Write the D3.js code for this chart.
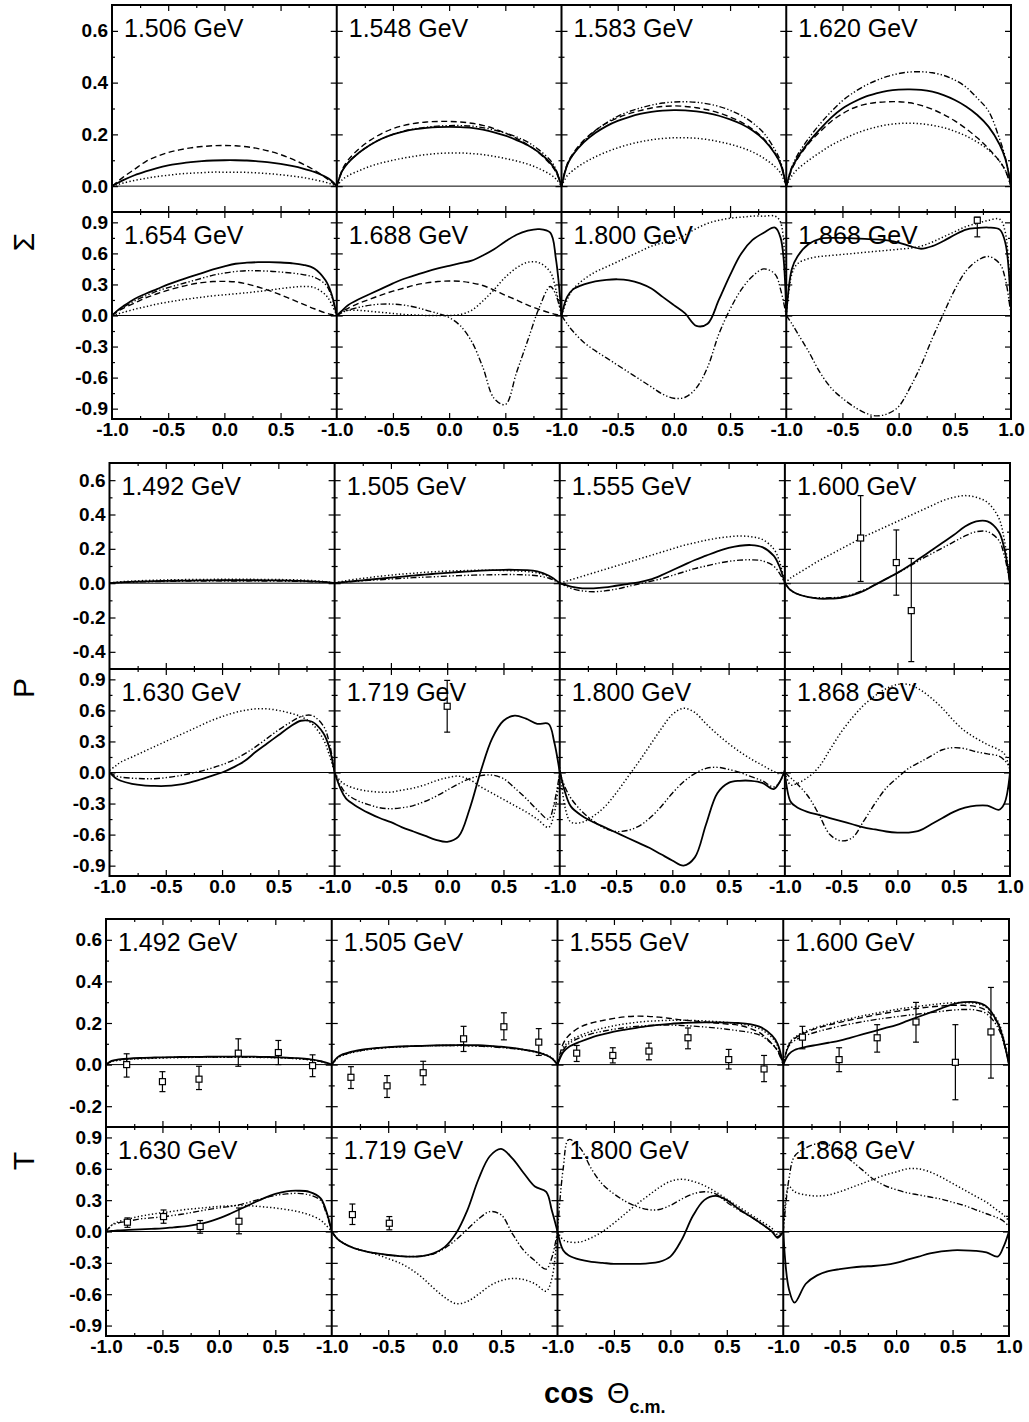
<!DOCTYPE html>
<html>
<head>
<meta charset="utf-8">
<script src="https://cdn.jsdelivr.net/npm/d3@7"></script>
<style>
  body { margin: 0; background: #fff; }
  svg text { font-family: "Liberation Sans", Arial, Helvetica, sans-serif; fill: #000; }
</style>
</head>
<body>
<svg id="chart" width="1029" height="1422"></svg>
<script>
// cos(theta_cm) sampling used for every model curve
const cosGrid = [-1, -0.95, -0.9, -0.8, -0.7, -0.6, -0.5, -0.4, -0.3, -0.2, -0.1, 0,
                 0.1, 0.2, 0.3, 0.4, 0.5, 0.6, 0.7, 0.8, 0.9, 0.95, 1];

// panel energies
const sigmaLabels  = ["1.506 GeV", "1.548 GeV", "1.583 GeV", "1.620 GeV", "1.654 GeV", "1.688 GeV", "1.800 GeV", "1.868 GeV"];
const polLabels    = ["1.492 GeV", "1.505 GeV", "1.555 GeV", "1.600 GeV", "1.630 GeV", "1.719 GeV", "1.800 GeV", "1.868 GeV"];
const targetLabels = ["1.492 GeV", "1.505 GeV", "1.555 GeV", "1.600 GeV", "1.630 GeV", "1.719 GeV", "1.800 GeV", "1.868 GeV"];

// tick values
const sigmaTopTicks = [0, 0.2, 0.4, 0.6],  sigmaTopMinor = [0.1, 0.3, 0.5];
const polTopTicks = [-0.4, -0.2, 0, 0.2, 0.4, 0.6], polTopMinor = [-0.3, -0.1, 0.1, 0.3, 0.5];
const targetTopTicks = [-0.2, 0, 0.2, 0.4, 0.6], targetTopMinor = [-0.1, 0.1, 0.3, 0.5];
const wideTicks = [-0.9, -0.6, -0.3, 0, 0.3, 0.6, 0.9], wideMinor = [-0.75, -0.45, -0.15, 0.15, 0.45, 0.75];
const cosMajor = [-0.5, 0, 0.5], cosMinor = [-0.75, -0.25, 0.25, 0.75];
const cosLabels = [-1, -0.5, 0, 0.5], cosLabelsLast = [-1, -0.5, 0, 0.5, 1];

// ---- Sigma (photon asymmetry) ----
const sigmaSolid = [
  [0, .012, .023, .042, .057, .07, .08, .087, .093, .097, .099, .1, .1, .099, .096, .092, .086, .078, .068, .055, .036, .022, 0],
  [0, .06, .09, .13, .16, .183, .2, .212, .22, .225, .228, .229, .228, .225, .218, .208, .195, .178, .158, .13, .09, .06, 0],
  [0, .08, .12, .17, .205, .232, .252, .267, .279, .287, .292, .294, .293, .289, .282, .272, .258, .24, .215, .18, .125, .085, 0],
  [0, .07, .11, .17, .22, .265, .3, .325, .345, .358, .368, .373, .374, .372, .365, .352, .333, .308, .275, .23, .16, .105, 0],
  [0, .05, .09, .16, .21, .255, .3, .34, .375, .41, .445, .475, .5, .51, .515, .515, .512, .505, .49, .455, .34, .22, 0],
  [0, .05, .1, .16, .21, .26, .31, .355, .39, .425, .455, .48, .505, .53, .58, .64, .715, .78, .82, .835, .8, .55, 0],
  [0, .18, .25, .3, .33, .345, .35, .34, .31, .26, .18, .1, .02, -.1, -.08, .15, .39, .6, .73, .8, .85, .75, 0],
  [0, .45, .57, .69, .74, .75, .75, .745, .74, .735, .725, .705, .67, .645, .67, .72, .78, .83, .845, .85, .83, .7, .05]
];
const sigmaDashed = [
  [0, .018, .035, .065, .095, .115, .13, .14, .148, .153, .156, .157, .156, .152, .145, .135, .122, .105, .085, .062, .033, .017, 0],
  [0, .065, .1, .145, .178, .203, .222, .235, .243, .248, .25, .25, .248, .243, .235, .222, .205, .185, .16, .128, .085, .055, 0],
  [0, .085, .125, .178, .215, .243, .264, .28, .292, .302, .308, .31, .308, .303, .295, .283, .267, .247, .22, .183, .127, .085, 0],
  [0, .065, .105, .165, .21, .25, .28, .302, .316, .323, .326, .326, .322, .312, .297, .277, .252, .222, .187, .145, .095, .06, 0],
  [0, .04, .07, .12, .17, .21, .245, .275, .3, .318, .328, .33, .325, .305, .275, .24, .2, .155, .11, .065, .025, .01, 0],
  [0, .04, .07, .12, .16, .2, .235, .265, .295, .315, .328, .333, .33, .315, .29, .245, .195, .15, .1, .06, .025, .01, 0],
  null,
  null
];
const sigmaDotted = [
  [0, .006, .012, .022, .03, .037, .042, .047, .05, .052, .054, .054, .054, .053, .051, .048, .044, .039, .033, .025, .015, .008, 0],
  [0, .025, .04, .06, .077, .09, .1, .109, .116, .122, .126, .128, .128, .126, .122, .115, .107, .097, .085, .068, .045, .028, 0],
  [0, .04, .06, .09, .113, .132, .148, .161, .171, .179, .184, .187, .187, .185, .18, .172, .162, .149, .132, .108, .075, .05, 0],
  [0, .04, .065, .1, .13, .158, .18, .2, .216, .228, .237, .242, .243, .241, .235, .226, .212, .194, .17, .14, .095, .06, 0],
  [0, .015, .03, .06, .085, .11, .13, .148, .163, .177, .19, .2, .21, .22, .232, .245, .26, .272, .28, .27, .2, .12, 0],
  [0, .04, .05, .05, .04, .03, .02, .01, .005, 0, 0, 0, .01, .05, .14, .25, .37, .46, .515, .51, .42, .25, 0],
  [0, .15, .25, .35, .42, .47, .52, .57, .62, .67, .7, .72, .78, .84, .89, .92, .94, .95, .96, .96, .96, .9, 0],
  [0, .4, .5, .55, .57, .58, .59, .6, .61, .62, .63, .64, .65, .67, .71, .76, .81, .86, .89, .92, .93, .8, 0]
];
const sigmaDashDot = [
  null,
  [0, .06, .09, .13, .16, .183, .2, .213, .222, .228, .232, .234, .234, .232, .226, .217, .205, .19, .17, .14, .1, .065, 0],
  [0, .08, .12, .175, .214, .245, .27, .288, .302, .313, .321, .325, .326, .324, .318, .308, .293, .273, .245, .205, .14, .095, 0],
  [0, .075, .12, .185, .24, .288, .33, .362, .388, .408, .424, .435, .441, .442, .438, .428, .41, .383, .34, .29, .18, .11, 0],
  [0, .045, .08, .14, .19, .235, .27, .3, .33, .36, .39, .41, .425, .433, .432, .428, .42, .41, .395, .37, .3, .2, 0],
  [0, .03, .05, .08, .1, .11, .11, .1, .08, .05, .02, -.02, -.1, -.25, -.5, -.8, -.86, -.55, -.24, .07, .28, .2, 0],
  [0, -.08, -.15, -.26, -.34, -.41, -.48, -.55, -.62, -.69, -.76, -.8, -.79, -.7, -.5, -.18, .06, .25, .38, .45, .4, .25, 0],
  [0, -.08, -.17, -.35, -.55, -.7, -.8, -.88, -.94, -.97, -.95, -.88, -.7, -.48, -.22, .02, .25, .43, .53, .57, .5, .35, 0]
];
// measured points: [cos, value, lower, upper]
const sigmaPoints = [[], [], [], [], [], [], [], [[0.7, 0.92, 0.76, 0.95]]];

// ---- P (recoil polarization) ----
const polSolid = [
  [0, .003, .005, .008, .01, .012, .013, .014, .015, .016, .016, .017, .017, .017, .017, .016, .016, .015, .013, .011, .008, .005, 0],
  [0, .004, .008, .014, .02, .026, .032, .038, .044, .05, .055, .06, .065, .069, .073, .076, .078, .078, .076, .068, .045, .025, 0],
  [0, -.01, -.02, -.03, -.03, -.025, -.015, -.005, .005, .02, .045, .075, .105, .135, .16, .185, .205, .218, .222, .21, .16, .1, 0],
  [0, -.04, -.06, -.08, -.09, -.09, -.085, -.07, -.045, -.01, .025, .06, .1, .145, .19, .235, .28, .33, .36, .36, .3, .2, 0],
  [0, -.05, -.08, -.11, -.125, -.13, -.13, -.12, -.1, -.07, -.035, 0, .05, .11, .2, .28, .36, .44, .5, .49, .38, .25, 0],
  [0, -.15, -.25, -.33, -.39, -.44, -.48, -.53, -.57, -.61, -.65, -.67, -.62, -.35, .02, .33, .5, .55, .52, .47, .47, .3, 0],
  [.02, -.2, -.33, -.42, -.48, -.53, -.58, -.63, -.68, -.73, -.79, -.85, -.9, -.82, -.5, -.2, -.1, -.08, -.08, -.1, -.16, -.1, .02],
  [0, -.28, -.33, -.38, -.41, -.44, -.47, -.5, -.53, -.55, -.57, -.58, -.58, -.56, -.5, -.44, -.38, -.34, -.32, -.32, -.36, -.3, 0]
];
const polDotted = [
  [0, .005, .008, .012, .015, .017, .019, .02, .021, .022, .022, .023, .023, .023, .022, .022, .021, .02, .018, .015, .01, .006, 0],
  [0, .008, .014, .024, .032, .04, .047, .053, .058, .063, .067, .07, .072, .074, .075, .075, .074, .072, .068, .06, .04, .022, 0],
  [0, .01, .02, .04, .06, .08, .1, .12, .14, .16, .18, .2, .22, .235, .25, .262, .27, .275, .27, .255, .2, .13, 0],
  [0, .03, .05, .09, .13, .165, .2, .235, .27, .3, .33, .36, .39, .42, .45, .48, .5, .51, .5, .47, .38, .25, 0],
  [.02, .06, .1, .15, .2, .25, .3, .35, .4, .45, .5, .54, .575, .6, .615, .615, .6, .575, .54, .47, .32, .18, 0],
  [0, -.08, -.12, -.16, -.18, -.19, -.19, -.17, -.15, -.12, -.08, -.05, -.035, -.07, -.14, -.2, -.26, -.32, -.38, -.45, -.53, -.4, 0],
  [.05, -.35, -.48, -.48, -.42, -.33, -.2, -.05, .1, .26, .42, .56, .62, .58, .47, .37, .28, .2, .13, .07, .01, -.01, .02],
  [0, -.12, -.11, -.05, .05, .22, .39, .53, .65, .74, .81, .85, .85, .8, .72, .62, .5, .4, .33, .27, .22, .18, .02]
];
const polDashDot = [
  [0, .002, .004, .006, .008, .009, .01, .011, .012, .012, .013, .013, .013, .013, .013, .012, .012, .011, .01, .008, .006, .004, 0],
  [0, .003, .006, .011, .016, .02, .024, .028, .032, .035, .038, .041, .044, .046, .048, .049, .05, .05, .048, .043, .03, .016, 0],
  [0, -.015, -.03, -.045, -.05, -.045, -.035, -.02, -.005, .01, .025, .045, .065, .085, .1, .115, .127, .134, .136, .13, .1, .06, 0],
  [0, -.04, -.06, -.08, -.085, -.085, -.08, -.065, -.04, -.01, .025, .06, .095, .135, .17, .205, .24, .275, .3, .3, .25, .16, 0],
  [0, -.03, -.045, -.055, -.06, -.06, -.05, -.035, -.015, .01, .04, .075, .12, .18, .25, .33, .41, .48, .54, .55, .45, .3, 0],
  [0, -.12, -.2, -.27, -.31, -.34, -.35, -.34, -.32, -.28, -.23, -.17, -.11, -.06, -.03, -.025, -.06, -.15, -.25, -.36, -.45, -.3, 0],
  [0, -.15, -.25, -.38, -.47, -.54, -.57, -.56, -.52, -.44, -.33, -.2, -.09, -.01, .04, .05, .03, 0, -.04, -.08, -.14, -.1, .02],
  [0, -.05, -.1, -.22, -.4, -.6, -.66, -.63, -.47, -.3, -.15, -.05, .04, .1, .16, .22, .24, .23, .2, .18, .16, .12, .05]
];
const polPoints = [[], [], [],
  [[-0.327, 0.263, 0.01, 0.51], [-0.01, 0.12, -0.07, 0.31], [0.123, -0.16, -0.457, 0.144]],
  [], [[0.0, 0.64, 0.39, 0.89]], [], []];

// ---- T (target asymmetry) ----
const targetSolid = [
  [0, .018, .024, .029, .032, .034, .035, .036, .037, .037, .038, .038, .038, .038, .038, .037, .036, .034, .031, .026, .017, .01, 0],
  [0, .035, .05, .065, .074, .08, .084, .087, .089, .09, .092, .093, .094, .094, .093, .09, .086, .08, .072, .062, .045, .03, 0],
  [0, .06, .085, .11, .13, .145, .158, .168, .177, .185, .191, .196, .2, .202, .203, .203, .202, .2, .195, .18, .14, .1, 0],
  [0, .05, .07, .085, .095, .105, .115, .13, .145, .16, .175, .19, .21, .23, .25, .27, .29, .3, .3, .28, .2, .12, 0],
  [0, .005, .01, .015, .02, .025, .03, .04, .05, .065, .09, .125, .17, .22, .27, .32, .36, .385, .39, .38, .32, .2, 0],
  [0, -.07, -.11, -.16, -.19, -.21, -.225, -.235, -.24, -.235, -.21, -.15, -.02, .2, .5, .72, .79, .7, .56, .43, .38, .2, 0],
  [0, -.18, -.23, -.27, -.29, -.3, -.31, -.31, -.31, -.305, -.29, -.24, -.08, .15, .3, .34, .3, .22, .15, .08, 0, -.06, 0],
  [0, -.55, -.68, -.5, -.42, -.38, -.36, -.345, -.335, -.33, -.32, -.3, -.27, -.24, -.21, -.19, -.18, -.18, -.185, -.2, -.24, -.15, 0]
];
const targetDashed = [
  null, null,
  [0, .1, .14, .18, .2, .212, .222, .23, .233, .232, .228, .222, .215, .21, .205, .2, .195, .19, .175, .15, .1, .065, 0],
  [0, .095, .125, .155, .175, .19, .203, .215, .226, .237, .247, .256, .264, .271, .277, .282, .285, .285, .28, .26, .2, .125, 0],
  null, null, null, null
];
const targetDotted = [
  [0, .015, .02, .025, .028, .03, .032, .033, .034, .035, .035, .035, .035, .035, .035, .034, .033, .031, .028, .023, .015, .008, 0],
  [0, .03, .045, .06, .07, .077, .082, .085, .088, .09, .091, .092, .092, .091, .09, .088, .084, .079, .072, .063, .048, .033, 0],
  [0, .08, .11, .14, .16, .175, .187, .196, .203, .208, .211, .213, .213, .212, .21, .207, .203, .197, .187, .17, .13, .09, 0],
  [0, .1, .13, .16, .18, .195, .21, .222, .234, .245, .255, .265, .273, .28, .287, .293, .297, .298, .295, .275, .21, .13, 0],
  [0, .06, .09, .12, .145, .165, .18, .195, .21, .22, .23, .24, .245, .25, .245, .235, .225, .21, .19, .16, .11, .06, 0],
  [0, -.07, -.11, -.16, -.19, -.22, -.26, -.3, -.36, -.44, -.54, -.63, -.69, -.67, -.6, -.52, -.47, -.45, -.46, -.5, -.57, -.45, 0],
  [0, -.08, -.1, -.1, -.06, 0, .08, .17, .26, .34, .42, .48, .5, .48, .44, .38, .31, .24, .17, .1, .03, -.03, 0],
  [0, .43, .38, .35, .34, .35, .38, .42, .46, .5, .54, .57, .6, .6, .57, .52, .46, .4, .34, .28, .2, .16, .1]
];
const targetDashDot = [
  [0, .016, .022, .027, .03, .032, .034, .035, .035, .036, .036, .036, .036, .036, .036, .035, .034, .032, .029, .024, .016, .009, 0],
  [0, .032, .047, .062, .071, .078, .083, .086, .088, .09, .091, .092, .092, .091, .089, .086, .082, .077, .07, .06, .045, .03, 0],
  [0, .07, .1, .13, .148, .16, .17, .178, .184, .188, .19, .19, .188, .185, .181, .176, .17, .163, .155, .14, .1, .07, 0],
  [0, .09, .115, .14, .158, .172, .185, .196, .206, .215, .223, .23, .237, .243, .25, .256, .262, .265, .263, .245, .18, .11, 0],
  [0, .06, .08, .1, .12, .13, .14, .155, .17, .19, .21, .225, .24, .26, .29, .32, .345, .36, .365, .35, .3, .18, 0],
  [0, -.07, -.11, -.16, -.19, -.21, -.225, -.235, -.24, -.235, -.215, -.16, -.08, .02, .12, .19, .16, -.02, -.18, -.28, -.36, -.25, 0],
  [0, .6, .88, .8, .6, .45, .36, .29, .24, .21, .21, .25, .31, .36, .38, .36, .28, .21, .15, .08, 0, -.05, 0],
  [0, .5, .72, .8, .84, .83, .77, .68, .59, .5, .44, .4, .37, .35, .33, .31, .28, .25, .21, .17, .13, .1, .05]
];
const targetPoints = [
  [[-0.817, 0, -0.06, 0.052], [-0.5, -0.082, -0.13, -0.034], [-0.176, -0.07, -0.12, -0.008], [0.172, 0.055, -0.008, 0.124], [0.527, 0.058, 0, 0.116], [0.83, -0.005, -0.058, 0.047]],
  [[-0.83, -0.061, -0.115, -0.01], [-0.51, -0.102, -0.158, -0.053], [-0.19, -0.039, -0.097, 0.016], [0.168, 0.124, 0.063, 0.184], [0.525, 0.182, 0.119, 0.249], [0.834, 0.108, 0.044, 0.173]],
  [[-0.83, 0.055, 0.015, 0.092], [-0.51, 0.044, 0.008, 0.081], [-0.19, 0.065, 0.023, 0.103], [0.156, 0.129, 0.076, 0.176], [0.517, 0.024, -0.021, 0.073], [0.83, -0.021, -0.082, 0.044]],
  [[-0.83, 0.132, 0.076, 0.184], [-0.505, 0.024, -0.034, 0.081], [-0.168, 0.129, 0.06, 0.192], [0.176, 0.205, 0.108, 0.299], [0.525, 0.011, -0.169, 0.192], [0.84, 0.157, -0.065, 0.371]],
  [[-0.81, 0.089, 0.04, 0.13], [-0.49, 0.143, 0.079, 0.206], [-0.166, 0.048, -0.016, 0.105], [0.178, 0.098, -0.022, 0.225]],
  [[-0.817, 0.162, 0.067, 0.263], [-0.49, 0.079, 0.016, 0.143]],
  [], []
];

// ---- layout ----
const blocks = [
  { title: "\u03A3", titleY: 242, left: 112, right: 1011, labels: sigmaLabels,
    curves: { dotted: sigmaDotted, dashdot: sigmaDashDot, dashed: sigmaDashed, solid: sigmaSolid }, points: sigmaPoints,
    rows: [{ top: 5, bottom: 212, domain: [-0.1, 0.7], major: sigmaTopTicks, minor: sigmaTopMinor },
           { top: 212, bottom: 419, domain: [-1, 1], major: wideTicks, minor: wideMinor }] },
  { title: "P", titleY: 688, left: 109.5, right: 1010, labels: polLabels,
    curves: { dotted: polDotted, dashdot: polDashDot, solid: polSolid }, points: polPoints,
    rows: [{ top: 463, bottom: 669, domain: [-0.5, 0.7], major: polTopTicks, minor: polTopMinor },
           { top: 669, bottom: 876, domain: [-1, 1], major: wideTicks, minor: wideMinor }] },
  { title: "T", titleY: 1161, left: 106, right: 1009, labels: targetLabels,
    curves: { dotted: targetDotted, dashdot: targetDashDot, dashed: targetDashed, solid: targetSolid }, points: targetPoints,
    rows: [{ top: 919, bottom: 1127, domain: [-0.3, 0.7], major: targetTopTicks, minor: targetTopMinor },
           { top: 1127, bottom: 1336, domain: [-1, 1], major: wideTicks, minor: wideMinor }] }
];

const lineStyles = {
  solid:   { width: 1.8, dash: null },
  dashed:  { width: 1.4, dash: "6,3.5" },
  dotted:  { width: 1.5, dash: "1.3,2.3" },
  dashdot: { width: 1.4, dash: "6,2.2,1.3,2.2,1.3,2.2" }
};

const svg = d3.select("#chart");
const fmt = d => d.toFixed(1);
let clipId = 0;

function tickAxis(g, axis, values, size) {
  g.call(axis.tickValues(values).tickSize(-size).tickFormat(""))
   .call(s => s.select(".domain").remove())
   .selectAll("line").attr("stroke", "#000").attr("stroke-width", 1.2);
}

blocks.forEach(b => {
  const colW = (b.right - b.left) / 4;

  b.rows.forEach((row, r) => {
    const y = d3.scaleLinear().domain(row.domain).range([row.bottom, row.top]);

    for (let c = 0; c < 4; c++) {
      const idx = r * 4 + c;
      const x0 = b.left + c * colW, x1 = x0 + colW;
      const x = d3.scaleLinear().domain([-1, 1]).range([x0, x1]);
      const g = svg.append("g");

      const cid = "clip" + (clipId++);
      svg.append("clipPath").attr("id", cid).append("rect")
        .attr("x", x0).attr("y", row.top).attr("width", colW).attr("height", row.bottom - row.top);

      // zero line
      g.append("line").attr("x1", x0).attr("x2", x1).attr("y1", y(0)).attr("y2", y(0))
        .attr("stroke", "#000").attr("stroke-width", 1);

      // model curves
      const line = d3.line().x((d, i) => x(cosGrid[i])).y(d => y(d)).curve(d3.curveCatmullRom.alpha(0.5));
      const cg = g.append("g").attr("clip-path", `url(#${cid})`);
      Object.keys(b.curves).forEach(style => {
        const vals = b.curves[style][idx];
        if (!vals) return;
        const st = lineStyles[style];
        cg.append("path").attr("d", line(vals))
          .attr("fill", "none").attr("stroke", "#000")
          .attr("stroke-width", st.width)
          .attr("stroke-dasharray", st.dash)
          .attr("stroke-linejoin", "round");
      });

      // data points with error bars
      b.points[idx].forEach(p => {
        const px = x(p[0]);
        g.append("line").attr("x1", px).attr("x2", px).attr("y1", y(p[2])).attr("y2", y(p[3]))
          .attr("stroke", "#000").attr("stroke-width", 1.2);
        [p[2], p[3]].forEach(v => g.append("line").attr("x1", px - 3).attr("x2", px + 3)
          .attr("y1", y(v)).attr("y2", y(v)).attr("stroke", "#000").attr("stroke-width", 1.2));
        g.append("rect").attr("x", px - 3).attr("y", y(p[1]) - 3).attr("width", 6).attr("height", 6)
          .attr("fill", "#fff").attr("stroke", "#000").attr("stroke-width", 1.2);
      });

      // inward ticks on all four sides
      tickAxis(g.append("g").attr("transform", `translate(0,${row.bottom})`), d3.axisBottom(x), cosMajor, 6);
      tickAxis(g.append("g").attr("transform", `translate(0,${row.bottom})`), d3.axisBottom(x), cosMinor, 3);
      tickAxis(g.append("g").attr("transform", `translate(0,${row.top})`), d3.axisTop(x), cosMajor, 6);
      tickAxis(g.append("g").attr("transform", `translate(0,${row.top})`), d3.axisTop(x), cosMinor, 3);
      tickAxis(g.append("g").attr("transform", `translate(${x0},0)`), d3.axisLeft(y), row.major, 6);
      tickAxis(g.append("g").attr("transform", `translate(${x0},0)`), d3.axisLeft(y), row.minor, 3);
      tickAxis(g.append("g").attr("transform", `translate(${x1},0)`), d3.axisRight(y), row.major, 6);
      tickAxis(g.append("g").attr("transform", `translate(${x1},0)`), d3.axisRight(y), row.minor, 3);

      // energy label
      g.append("text").attr("x", x0 + 12).attr("y", row.top + 32)
        .attr("font-size", 25).text(b.labels[idx]);

      // y tick labels on the left column
      if (c === 0) {
        const ya = g.append("g").attr("transform", `translate(${x0},0)`)
          .call(d3.axisLeft(y).tickValues(row.major).tickSize(0).tickPadding(4).tickFormat(fmt));
        ya.select(".domain").remove();
        ya.selectAll("text").attr("font-size", 19).attr("font-weight", "bold")
          .attr("font-family", "Liberation Sans, Arial, sans-serif");
      }
      // x tick labels under the lower row
      if (r === 1) {
        const xa = g.append("g").attr("transform", `translate(0,${row.bottom})`)
          .call(d3.axisBottom(x).tickValues(c === 3 ? cosLabelsLast : cosLabels).tickSize(0).tickPadding(4).tickFormat(fmt));
        xa.select(".domain").remove();
        xa.selectAll("text").attr("font-size", 19).attr("font-weight", "bold")
          .attr("font-family", "Liberation Sans, Arial, sans-serif");
      }
    }
  });

  // frame and dividers
  const top = b.rows[0].top, mid = b.rows[0].bottom, bottom = b.rows[1].bottom;
  const fg = svg.append("g").attr("stroke", "#000").attr("fill", "none");
  fg.append("rect").attr("x", b.left).attr("y", top).attr("width", b.right - b.left).attr("height", bottom - top)
    .attr("stroke-width", 2);
  fg.append("line").attr("x1", b.left).attr("x2", b.right).attr("y1", mid).attr("y2", mid).attr("stroke-width", 2);
  for (let c = 1; c < 4; c++) {
    const xc = b.left + c * colW;
    fg.append("line").attr("x1", xc).attr("x2", xc).attr("y1", top).attr("y2", bottom).attr("stroke-width", 2);
  }

  // observable title
  svg.append("text").attr("transform", `translate(34,${b.titleY}) rotate(-90)`)
    .attr("text-anchor", "middle").attr("font-size", 30).text(b.title);
});

// x axis title
const xt = svg.append("text").attr("x", 544).attr("y", 1403).attr("font-size", 29).attr("font-weight", "bold");
xt.append("tspan").text("cos ");
xt.append("tspan").attr("dx", 5).attr("font-weight", "normal").text("\u0398");
xt.append("tspan").attr("font-size", 18).attr("dy", 10).text("c.m.");
</script>
